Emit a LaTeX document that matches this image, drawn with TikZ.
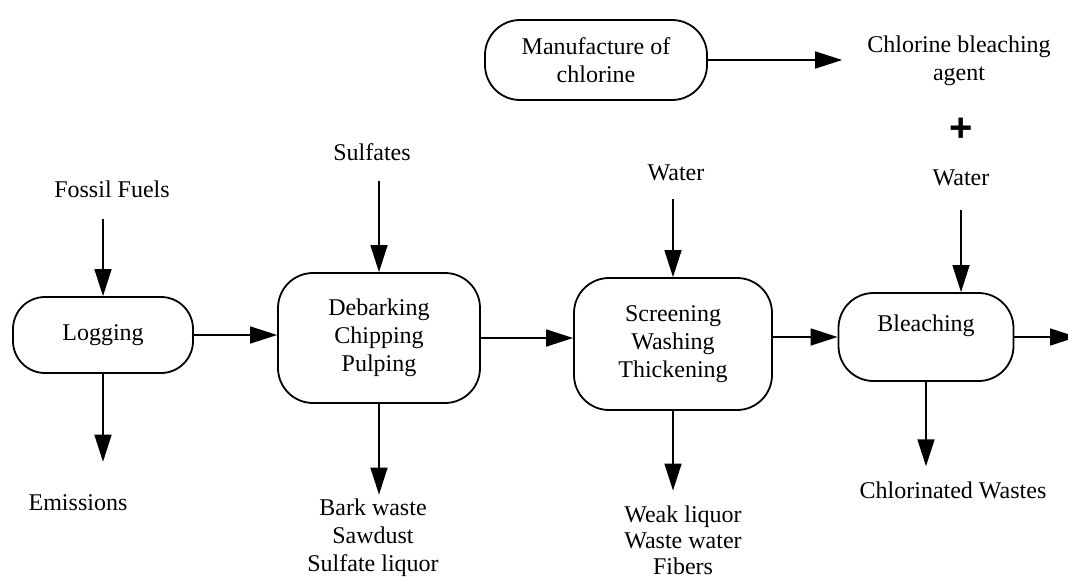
\documentclass[tikz,border=0pt]{standalone}
\usepackage{fontspec}
\setmainfont{Liberation Serif}
\newfontfamily\plusfont{Liberation Sans}
\usetikzlibrary{arrows.meta}

\begin{document}
\begin{tikzpicture}[
    x=1pt, y=-1pt,
    process/.style={rectangle, draw, line width=1.8pt, rounded corners=35pt, align=center, inner sep=0pt, font=\fontsize{24}{28}\selectfont},
    item/.style={align=center, inner sep=0pt, font=\fontsize{24}{28}\selectfont},
    arrow/.style={-{Triangle[length=27pt,width=17pt]}, line width=1.5pt}
]
\useasboundingbox (0,0) rectangle (1068,578);

% Chlorine supply
\node[process, minimum width=222pt, minimum height=80pt] (chlorfab) at (596,60) {Manufacture of\\chlorine};
\node[item] (agent) at (959,61) {Chlorine bleaching\\agent};
\node[item, font=\plusfont\fontsize{40}{40}\selectfont\bfseries] (plus) at (961,130) {+};
\node[item] (water2) at (961,178) {Water};

% Inputs
\node[item] (fossil) at (112,189) {Fossil Fuels};
\node[item] (sulfates) at (372,152) {Sulfates};
\node[item] (water1) at (676,173) {Water};

% Process steps
\node[process, minimum width=180pt, minimum height=76pt, rounded corners=32pt] (logging) at (103,335) {Logging};
\node[process, minimum width=202pt, minimum height=130pt] (debark) at (379,338) {Debarking\\Chipping\\Pulping};
\node[process, minimum width=198pt, minimum height=132pt] (screen) at (673,344) {Screening\\Washing\\Thickening};
\node[process, minimum width=175pt, minimum height=88pt] (bleach) at (926,337) {Bleaching\\\mbox{}};
\coordinate (pulp) at (1077,337);

% Outputs
\node[item] (emis) at (78,503) {Emissions};
\node[item, anchor=north] (bark) at (373,498.6) {Bark waste\\Sawdust\\Sulfate liquor};
\node[item, anchor=north, font=\fontsize{24}{26}\selectfont] (weak) at (683,505.6) {Weak liquor\\Waste water\\Fibers};
\node[item] (chlwaste) at (953,490) {Chlorinated Wastes};

% Arrows
\draw[arrow, shorten >=25pt] (chlorfab.east) -- (chlorfab.east -| agent.west);
\draw[arrow, shorten <=21pt] (fossil.south -| logging.north) -- (logging.north);
\draw[arrow, shorten <=20pt] (sulfates.south -| debark.north) -- (debark.north);
\draw[arrow, shorten <=18pt] (water1.south -| screen.north) -- (screen.north);
\draw[arrow, shorten <=24pt] (water2.south) -- (water2.south |- bleach.north);

\draw[arrow] (logging.east) -- (logging.east -| debark.west);
\draw[arrow] (debark.east) -- (debark.east -| screen.west);
\draw[arrow] (screen.east |- bleach.west) -- (bleach.west);
\draw[arrow] (bleach.east) -- (pulp);

\draw[arrow, shorten >=33pt] (logging.south) -- (logging.south |- emis.north);
\draw[arrow, shorten >=4pt] (debark.south) -- (debark.south |- bark.north);
\draw[arrow, shorten >=15pt] (screen.south) -- (screen.south |- weak.north);
\draw[arrow, shorten >=15pt] (bleach.south) -- (bleach.south |- chlwaste.north);

\end{tikzpicture}
\end{document}
